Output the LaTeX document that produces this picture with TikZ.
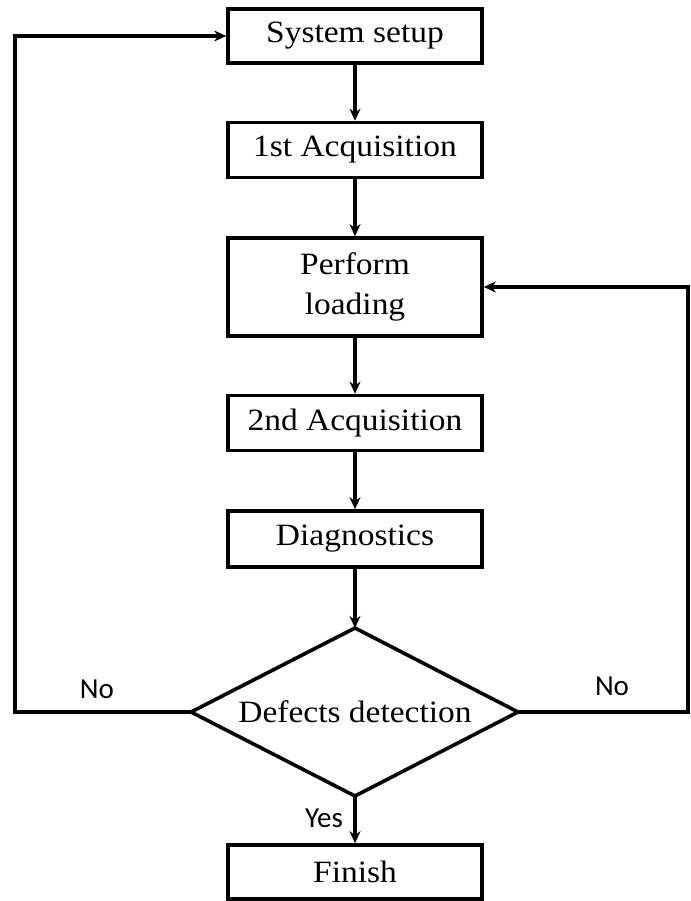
\documentclass[tikz,border=0pt]{standalone}
\usepackage{fontspec}
\setmainfont{Liberation Serif}[FakeStretch=1.08]
\newfontfamily\labelfont{Carlito}
\usetikzlibrary{arrows.meta}
\begin{document}
\begin{tikzpicture}[x=1pt,y=-1pt,
  every node/.style={inner sep=0pt},
  stepbox/.style={draw, line width=3.6pt, minimum width=254pt, align=center,
    font=\fontsize{31}{40}\selectfont},
  flow/.style={line width=3.6pt, -{Stealth[length=12pt,width=11pt]}},
  answer/.style={font=\labelfont\fontsize{29}{32}\selectfont}]
\useasboundingbox (0,0) rectangle (690,901);

% process boxes
\node[stepbox, minimum height=54pt] (setup) at (355,36) {System setup};
\node[stepbox, minimum height=55pt] (acq1) at (355,150) {1st Acquisition};
\node[stepbox, minimum height=98pt] (load) at (355,287) {Perform\\loading};
\node[stepbox, minimum height=55pt] (acq2) at (355,423) {2nd Acquisition};
\node[stepbox, minimum height=56pt] (diag) at (355,539) {Diagnostics};
\node[stepbox, minimum height=54pt] (fin) at (355,872) {Finish};

% decision diamond
\coordinate (decT) at (355,628);
\coordinate (decR) at (518,712);
\coordinate (decB) at (355,796);
\coordinate (decL) at (191,712);
\draw[line width=3.6pt, line join=miter] (decT) -- (decR) -- (decB) -- (decL) -- cycle;
\node[font=\fontsize{31}{34}\selectfont] (dec) at (355,712) {Defects detection};

% loop-back corners
\coordinate (lcorner) at (15,712);
\coordinate (rcorner) at (688,712);

% main flow
\draw[flow] (setup) -- (acq1);
\draw[flow] (acq1) -- (load);
\draw[flow] (load) -- (acq2);
\draw[flow] (acq2) -- (diag);
\draw[flow] (diag) -- (decT);
\draw[flow] (decB) -- (fin);

% feedback loops
\draw[flow] (decL) -- (lcorner) |- (setup.west);
\draw[flow] (decR) -- (rcorner) |- (load.east);

% branch labels
\node[answer] (noL) at (97,689) {No};
\node[answer] (noR) at (612,686) {No};
\node[answer] (yes) at (324,818) {Yes};
\end{tikzpicture}
\end{document}
